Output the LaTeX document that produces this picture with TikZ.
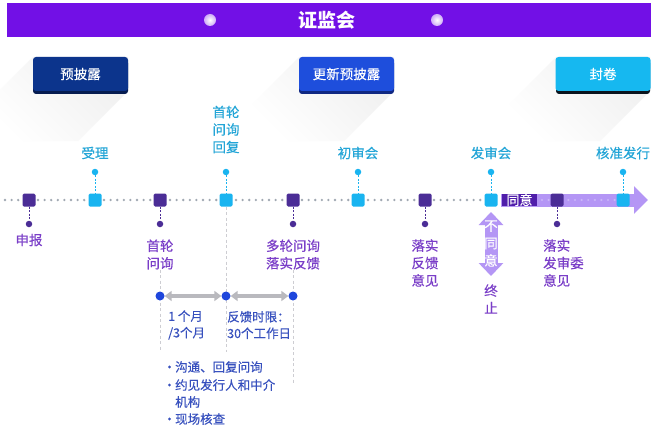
\documentclass[tikz,border=0pt]{standalone}
\usepackage{fontspec}
\setmainfont{Noto Sans CJK SC}
\newfontfamily\medf{Noto Sans CJK SC}[FakeBold=0.35]
\usetikzlibrary{arrows.meta}
\definecolor{barv}{RGB}{114,16,230}
\definecolor{navy}{RGB}{12,52,140}
\definecolor{navyd}{RGB}{6,28,80}
\definecolor{royal}{RGB}{30,78,220}
\definecolor{royald}{RGB}{16,40,130}
\definecolor{sky}{RGB}{22,184,240}
\definecolor{skyd}{RGB}{10,20,30}
\definecolor{sqdark}{RGB}{75,45,150}
\definecolor{sqcyan}{RGB}{25,180,240}
\definecolor{txcyan}{RGB}{35,165,215}
\definecolor{txpurp}{RGB}{122,62,200}
\definecolor{band}{RGB}{180,150,245}
\definecolor{tongyi}{RGB}{80,30,170}
\definecolor{bdot}{RGB}{30,70,220}
\definecolor{txblue}{RGB}{55,80,190}
\definecolor{dotgray}{RGB}{160,168,178}
\definecolor{gdash}{RGB}{205,205,210}
\definecolor{garr}{RGB}{185,185,190}
\begin{document}
\begin{tikzpicture}[x=1pt,y=-1pt,
  pbox/.style={rounded corners=3pt, minimum width=95pt, minimum height=34pt, inner sep=0pt, text=white, font=\medf\fontsize{13.5}{16}\selectfont},
  sq/.style={rounded corners=1.5pt, minimum size=13pt, inner sep=0pt},
  sqd/.style={sq, fill=sqdark},
  sqc/.style={sq, fill=sqcyan},
  udot/.style={circle, fill=sqcyan, minimum size=6.5pt, inner sep=0pt},
  ddot/.style={circle, fill=sqdark, minimum size=6.5pt, inner sep=0pt},
  ucon/.style={sqcyan, dashed, dash pattern=on 2pt off 1.5pt, line width=0.8pt},
  dcon/.style={sqdark, dashed, dash pattern=on 2pt off 1.5pt, line width=0.8pt},
  lab/.style={font=\medf\fontsize{13.5}{17.5}\selectfont, inner sep=0pt, align=center},
  ulab/.style={lab, text=txcyan},
  dlab/.style={lab, text=txpurp},
  tldots/.style={dotgray, line width=2.6pt, line cap=round, dash pattern=on 0pt off 6.6pt},
  gline/.style={gdash, dashed, dash pattern=on 3pt off 2.5pt, line width=0.8pt},
  bdotst/.style={circle, fill=bdot, minimum size=9pt, inner sep=0pt},
  garrow/.style={garr, line width=4pt, {Triangle[width=10pt,length=7pt]}-{Triangle[width=10pt,length=7pt]}},
  btxt/.style={font=\medf\fontsize{12.5}{16.5}\selectfont, text=txblue, inner sep=0pt, align=left},
  shadowst/.style={top color=black!6, bottom color=white, shading angle=-45}
]
\useasboundingbox (0,0) rectangle (660,441);
\fill[white] (0,0) rectangle (660,441);

% long shadows
\shade[shadowst] (33,57) -- (128,57) -- (128,91) -- (78,141) -- (-17,141) -- (-17,107) -- cycle;
\shade[shadowst] (299,57) -- (394,57) -- (394,91) -- (344,141) -- (249,141) -- (249,107) -- cycle;
\shade[shadowst] (556,57) -- (650,57) -- (650,91) -- (600,141) -- (506,141) -- (506,107) -- cycle;

% top bar
\node[fill=barv, minimum width=644pt, minimum height=34pt, inner sep=0pt, anchor=north west] (bar) at (7,3) {};
\node[text=white, font=\fontsize{19}{22}\selectfont\bfseries, inner sep=0pt] (title) at (327,20) {证监会};
\node[circle, minimum size=12pt, inner sep=0pt, inner color=white, outer color=barv!35] (c1) at (210,20) {};
\node[circle, minimum size=12pt, inner sep=0pt, inner color=white, outer color=barv!35] (c2) at (437,20) {};

% boxes with bottom shadow
\fill[navyd, rounded corners=3pt] (33,60) rectangle (128,94);
\node[pbox, fill=navy] (p1) at (80.5,74) {预披露};
\fill[royald, rounded corners=3pt] (299,60) rectangle (394,94);
\node[pbox, fill=royal] (p2) at (346.5,74) {更新预披露};
\fill[skyd, rounded corners=3pt] (556,60) rectangle (650,94);
\node[pbox, fill=sky] (p3) at (603,74) {封卷};

% lower guide line ends
\coordinate (g1) at (160,352);
\coordinate (g2) at (226,352);
\coordinate (g3) at (293,383);

% timeline
\coordinate (t0) at (5,200);
\coordinate (t1) at (498,200);
\draw[tldots] (t0) -- (t1);
\coordinate (a0) at (501,200);
\coordinate (a1) at (648,200);
\draw[band, line width=13pt, -{Triangle[width=27pt,length=14pt]}] (a0) -- (a1);
\coordinate (ad0) at (542,200);
\coordinate (ad1) at (632,200);
\draw[band!70!white, line width=2.4pt, line cap=round, dash pattern=on 0pt off 6.6pt] (ad0) -- (ad1);
\node[fill=tongyi, text=white, inner sep=0pt, minimum width=35pt, minimum height=12pt, font=\medf\fontsize{13}{13}\selectfont] (ty) at (519.5,200) {同意};

% squares
\node[sqd] (s1) at (29,200) {};
\node[sqc] (s2) at (95,200) {};
\node[sqd] (s3) at (160,200) {};
\node[sqc] (s4) at (226,200) {};
\node[sqd] (s5) at (293,200) {};
\node[sqc] (s6) at (358,200) {};
\node[sqd] (s7) at (425,200) {};
\node[sqc] (s8) at (491,200) {};
\node[sqd] (s9) at (557,200) {};
\node[sqc] (s10) at (623,200) {};

\draw[gline] (s4.south) -- (g2);

% upper dots and labels
\node[udot] (u2) at (95,172) {};
\node[udot] (u4) at (226,172) {};
\node[udot] (u6) at (358,172) {};
\node[udot] (u8) at (491,172) {};
\node[udot] (u10) at (623,172) {};
\draw[ucon] (u2) -- (s2);
\draw[ucon] (u4) -- (s4);
\draw[ucon] (u6) -- (s6);
\draw[ucon] (u8) -- (s8);
\draw[ucon] (u10) -- (s10);
\node[ulab] (l2) at (95,153) {受理};
\node[ulab] (l4) at (226,129.5) {首轮\\问询\\回复};
\node[ulab] (l6) at (358,153) {初审会};
\node[ulab] (l8) at (491,153) {发审会};
\node[ulab] (l10) at (623,153) {核准发行};

% lower dots and labels
\node[ddot] (d1) at (29,224) {};
\node[ddot] (d3) at (160,224) {};
\node[ddot] (d5) at (293,224) {};
\node[ddot] (d7) at (425,224) {};
\node[ddot] (d9) at (557,224) {};
\draw[dcon] (s1) -- (d1);
\draw[dcon] (s3) -- (d3);
\draw[dcon] (s5) -- (d5);
\draw[dcon] (s7) -- (d7);
\draw[dcon] (s9) -- (d9);
\node[dlab] (m1) at (29,240) {申报};
\node[dlab] (m3) at (160,254.5) {首轮\\问询};
\node[dlab] (m5) at (293,254.5) {多轮问询\\落实反馈};
\node[dlab] (m7) at (425,263) {落实\\反馈\\意见};
\node[dlab, align=left, anchor=west] (m9) at (543,263) {落实\\发审委\\意见};

\draw[gline] (m3.south) -- (g1);
\draw[gline] (m5.south) -- (g3);

% not-agree arrow
\coordinate (n0) at (491,212);
\coordinate (n1) at (491,276);
\draw[band, line width=13pt, {Triangle[width=24pt,length=13pt]}-{Triangle[width=24pt,length=13pt]}] (n0) -- (n1);
\node[lab, text=white] (bt) at (491,243.5) {不\\同\\意};
\node[dlab] (zz) at (491,299) {终\\止};

% durations
\node[bdotst] (bd1) at (160,296) {};
\node[bdotst] (bd2) at (226,296) {};
\node[bdotst] (bd3) at (293,296) {};
\draw[garrow] (bd1) -- (bd2);
\draw[garrow] (bd2) -- (bd3);
\node[btxt, anchor=west] (k1) at (168,325) {1 个月\\/3个月};
\node[btxt, anchor=west] (k2) at (227,325) {反馈时限：\\30个工作日};

% bullets
\node[btxt, anchor=west] (b1) at (163,367) {\makebox[12pt][l]{•}沟通、回复问询};
\node[btxt, anchor=west] (b2) at (163,385) {\makebox[12pt][l]{•}约见发行人和中介};
\node[btxt, anchor=west] (b3) at (163,402) {\makebox[12pt][l]{}机构};
\node[btxt, anchor=west] (b4) at (163,419) {\makebox[12pt][l]{•}现场核查};
\end{tikzpicture}
\end{document}
